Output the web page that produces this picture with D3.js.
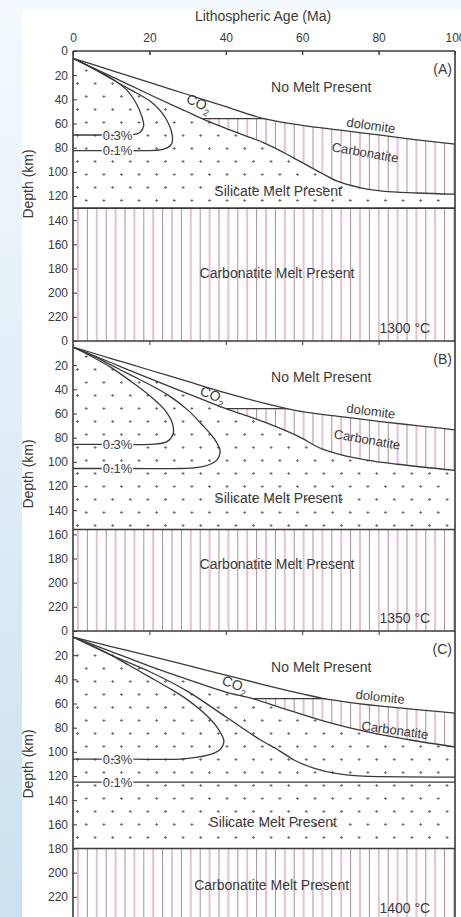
<!DOCTYPE html>
<html>
<head>
<meta charset="utf-8">
<script src="https://cdn.jsdelivr.net/npm/d3@7"></script>
<style>
  body { margin: 0; background: #eef6fb; }
  svg { display: block; font-family: "Liberation Sans", Arial, sans-serif; }
</style>
</head>
<body>
<div id="chart"></div>
<script>
// tick values
var ageTicks = [0, 20, 40, 60, 80, 100];
var depthTicks = [0, 20, 40, 60, 80, 100, 120, 140, 160, 180, 200, 220];
var panelNames = ["(A)", "(B)", "(C)"];
var mantleTemps = ["1300 °C", "1350 °C", "1400 °C"];

// [age (Ma), depth (km)]
// panel A, 1300 C
var dolomiteA = [[0,6],[10,16],[20,26],[30,36],[40,46],[50,56],[60,61.5],[70,65.5],[80,69.5],[90,73.5],[100,77]];
var solidusA = [[0,6],[10,21],[20,36],[30,50.5],[34.5,57],[40,64],[45,70],[50,76],[57.5,88],[65,101],[69,107.5],[75,113],[81,116],[90,117.5],[100,118.5]];
var melt03A = [[0,6],[5,14],[10,22.5],[14,32],[16.5,43],[18,54],[18.5,62],[17.5,67.5],[15,69.5],[8,69.5],[0,69.5]];
var melt01A = [[0,6],[5,14],[10,23],[15,32],[20,41],[23,50],[25,60],[26,70],[25.8,77],[23.5,81.5],[18,82.5],[8,82.5],[0,82.5]];

// panel B, 1350 C
var dolomiteB = [[0,5],[10,14.5],[20,24],[30,33.5],[40,43],[50,51.5],[56,56],[60,58.5],[70,62.5],[80,66.5],[90,70],[100,73.5]];
var solidusB = [[0,5],[10,18],[20,31],[30,43.5],[40,56],[50,67],[59,79],[65,89],[70,94],[77,98.5],[85,102],[100,107]];
var melt03B = [[0,5],[5,13],[10,22],[15,33],[20,45],[24,57],[26,68],[26.2,77],[24.5,83.5],[20,85.5],[10,85.5],[0,85.5]];
var melt01B = [[0,5],[5,12],[10,20],[15,28],[20,36],[25,45],[30,57],[34,70],[37,81],[38.5,91],[37.5,99],[34,104],[28,105.5],[15,105.5],[0,105.5]];

// panel C, 1400 C
var dolomiteC = [[0,5],[10,13],[20,20.5],[30,28.5],[40,36.5],[50,44.5],[60,52],[65,55.5],[70,58],[80,62],[90,65],[100,68]];
var solidusC = [[0,5],[10,17],[20,29],[30,40],[40,50.5],[47,56],[55,64],[65,74],[77,83.5],[88,90],[100,96]];
var melt03C = [[0,5],[5,12],[10,20],[15,29],[20,38],[25,47],[30,57],[35,70],[38,81],[39.5,91],[38.5,98],[35,103],[28,106],[15,106],[0,106]];
var melt01C = [[0,5],[10,20],[20,33.5],[30,50],[40,71],[49,90],[54,99],[58,107],[63,113.5],[70,118.5],[80,120.5],[100,121]];
var melt01FlatC = [[0,125],[100,125]];

// depth of the carbonatite top and of the base of the silicate melt
var carbonatiteTop = [56, 56, 56];
var silicateBase = [130, 156, 180];

var svgWidth = 461, svgHeight = 917;
var left = 73, right = 455;
var panelTops = [51, 341, 631];
var panelH = 290;
var ink = "#3a3a3a";

var svg = d3.select("#chart").append("svg")
  .attr("width", svgWidth)
  .attr("height", svgHeight);

var defs = svg.append("defs");

// slide background + white sheet
var bg = defs.append("linearGradient").attr("id", "bg").attr("x1", 0).attr("y1", 0).attr("x2", 0).attr("y2", 1);
bg.append("stop").attr("offset", "0%").attr("stop-color", "#f3f9fd");
bg.append("stop").attr("offset", "100%").attr("stop-color", "#cbe1ed");
svg.append("rect").attr("width", svgWidth).attr("height", svgHeight).attr("fill", "url(#bg)");
svg.append("rect").attr("x", 22).attr("y", 9).attr("width", svgWidth - 22).attr("height", svgHeight - 9).attr("fill", "#fff");

// vertical pink hatch
var hatch = defs.append("pattern").attr("id", "hatch")
  .attr("patternUnits", "userSpaceOnUse")
  .attr("x", left + 4).attr("width", 18.8).attr("height", 10);
hatch.append("line").attr("x1", 1).attr("x2", 1).attr("y1", 0).attr("y2", 10)
  .attr("stroke", "#cf80a9").attr("stroke-width", 1);
hatch.append("line").attr("x1", 10.4).attr("x2", 10.4).attr("y1", 0).attr("y2", 10)
  .attr("stroke", "#b08a9f").attr("stroke-width", 1);

// small grey crosses
var dots = defs.append("pattern").attr("id", "dots")
  .attr("patternUnits", "userSpaceOnUse")
  .attr("x", left).attr("y", 0).attr("width", 17.6).attr("height", 26);
dots.append("path")
  .attr("d", "M3,5.5h3M4.5,4v3M11.8,18.5h3M13.3,17v3")
  .attr("stroke", "#6f6f6f").attr("stroke-width", 1);

var x = d3.scaleLinear().domain([0, 100]).range([left, right]);

// title
svg.append("text")
  .attr("x", 263).attr("y", 21)
  .attr("text-anchor", "middle")
  .attr("font-size", 14)
  .attr("fill", ink)
  .text("Lithospheric Age (Ma)");

// top axis
svg.append("g")
  .attr("transform", `translate(0, ${panelTops[0]})`)
  .call(d3.axisTop(x).tickValues(ageTicks).tickSize(-4).tickPadding(9))
  .call(g => g.select(".domain").remove())
  .call(g => g.selectAll("line").attr("stroke", ink))
  .call(g => g.selectAll("text").attr("font-size", 12).attr("fill", ink).attr("font-family", "Liberation Sans, Arial, sans-serif"));

var panels = [
  { dolomite: dolomiteA, solidus: solidusA, loops: [melt03A, melt01A], open: [],
    labels: { co2: [33, 43, 25], dol: [78, 61.5, 8], carb: [76.5, 84, 10], sil: [53.7, 116], cmp: [53.4, 184], p03: 69.5, p01: 82.5 } },
  { dolomite: dolomiteB, solidus: solidusB, loops: [melt03B, melt01B], open: [],
    labels: { co2: [36.6, 44.5, 22], dol: [78, 58, 7], carb: [77, 81.5, 10], sil: [53.7, 130], cmp: [53.4, 185], p03: 85.5, p01: 105.5 } },
  { dolomite: dolomiteC, solidus: solidusC, loops: [melt03C], open: [melt01C, melt01FlatC],
    labels: { co2: [42.4, 44, 20], dol: [80.4, 54.5, 6], carb: [84.3, 82, 8], sil: [52.4, 158], cmp: [52, 210], p03: 106, p01: 125 } }
];

panels.forEach(function(p, i) {
  var top = panelTops[i];
  var y = d3.scaleLinear().domain([0, 240]).range([top, top + panelH]);

  var line = d3.line().x(d => x(d[0])).y(d => y(d[1])).curve(d3.curveMonotoneX);
  var loop = d3.line().x(d => x(d[0])).y(d => y(d[1])).curve(d3.curveCatmullRom.alpha(0.5));

  var bottomEdge = `L${x(100)},${y(240)}L${x(0)},${y(240)}Z`;
  var topEdge = `L${x(100)},${y(0)}L${x(0)},${y(0)}Z`;

  defs.append("clipPath").attr("id", "panel-" + i)
    .append("rect").attr("x", left).attr("y", top).attr("width", right - left).attr("height", panelH);
  defs.append("clipPath").attr("id", "belowSol-" + i)
    .append("path").attr("d", line(p.solidus) + bottomEdge);
  defs.append("clipPath").attr("id", "aboveSol-" + i)
    .append("path").attr("d", line(p.solidus) + topEdge);
  defs.append("clipPath").attr("id", "belowDol-" + i)
    .append("path").attr("d", line(p.dolomite) + bottomEdge);

  var g = svg.append("g").attr("clip-path", `url(#panel-${i})`);

  // silicate melt field (dots)
  g.append("rect")
    .attr("x", left).attr("y", top)
    .attr("width", right - left).attr("height", y(silicateBase[i]) - top)
    .attr("clip-path", `url(#belowSol-${i})`)
    .attr("fill", "url(#dots)");

  // carbonatite wedge between dolomite and solidus
  var wedge = g.append("g").attr("clip-path", `url(#belowDol-${i})`)
    .append("g").attr("clip-path", `url(#aboveSol-${i})`);
  wedge.append("rect")
    .attr("x", left).attr("y", y(carbonatiteTop[i]))
    .attr("width", right - left).attr("height", y(silicateBase[i]) - y(carbonatiteTop[i]))
    .attr("fill", "url(#hatch)");
  wedge.append("line")
    .attr("x1", x(0)).attr("x2", x(100))
    .attr("y1", y(carbonatiteTop[i])).attr("y2", y(carbonatiteTop[i]))
    .attr("stroke", ink).attr("stroke-width", 1.3);

  // carbonatite melt below the silicate field
  g.append("rect")
    .attr("x", left).attr("y", y(silicateBase[i]))
    .attr("width", right - left).attr("height", y(240) - y(silicateBase[i]))
    .attr("fill", "url(#hatch)");

  // boundaries
  [p.dolomite, p.solidus].concat(p.open).forEach(function(d) {
    g.append("path").attr("d", line(d)).attr("fill", "none")
      .attr("stroke", ink).attr("stroke-width", 1.3);
  });
  p.loops.forEach(function(d) {
    g.append("path").attr("d", loop(d)).attr("fill", "none")
      .attr("stroke", ink).attr("stroke-width", 1.3);
  });
  g.append("line")
    .attr("x1", x(0)).attr("x2", x(100))
    .attr("y1", y(silicateBase[i])).attr("y2", y(silicateBase[i]))
    .attr("stroke", ink).attr("stroke-width", 1.6);

  // left axis
  svg.append("g")
    .attr("transform", `translate(${left}, 0)`)
    .call(d3.axisLeft(y).tickValues(depthTicks).tickSize(-4).tickPadding(5))
    .call(g => g.select(".domain").remove())
    .call(g => g.selectAll("line").attr("stroke", ink))
    .call(g => g.selectAll("text").attr("font-size", 12).attr("fill", ink).attr("font-family", "Liberation Sans, Arial, sans-serif"));

  // inward ticks along the top edge of every panel
  svg.append("g")
    .attr("transform", `translate(0, ${top})`)
    .call(d3.axisBottom(x).tickValues(ageTicks.slice(1, -1)).tickSize(4).tickFormat(""))
    .call(g => g.select(".domain").remove())
    .call(g => g.selectAll("line").attr("stroke", ink));

  // frame edges
  svg.append("line").attr("x1", left).attr("x2", right).attr("y1", top).attr("y2", top)
    .attr("stroke", ink).attr("stroke-width", 1.6);

  // y label
  svg.append("text")
    .attr("transform", `translate(33, ${top + 133}) rotate(-90)`)
    .attr("text-anchor", "middle")
    .attr("font-size", 14)
    .attr("fill", ink)
    .text("Depth (km)");

  var L = p.labels;
  var txt = svg.append("g").attr("fill", ink).attr("font-size", 14);

  txt.append("text").attr("x", x(99.2)).attr("y", y(15)).attr("dy", "0.35em")
    .attr("text-anchor", "end").text(panelNames[i]);
  txt.append("text").attr("x", x(65)).attr("y", y(30)).attr("dy", "0.35em")
    .attr("text-anchor", "middle").text("No Melt Present");

  var co2 = txt.append("text")
    .attr("transform", `translate(${x(L.co2[0])}, ${y(L.co2[1])}) rotate(${L.co2[2]})`)
    .attr("text-anchor", "middle").attr("dy", "0.35em");
  co2.append("tspan").text("CO");
  co2.append("tspan").attr("font-size", 9).attr("dy", 4).text("2");

  txt.append("text")
    .attr("transform", `translate(${x(L.dol[0])}, ${y(L.dol[1])}) rotate(${L.dol[2]})`)
    .attr("text-anchor", "middle").attr("dy", "0.35em").attr("font-size", 13)
    .text("dolomite");
  txt.append("text")
    .attr("transform", `translate(${x(L.carb[0])}, ${y(L.carb[1])}) rotate(${L.carb[2]})`)
    .attr("text-anchor", "middle").attr("dy", "0.35em").attr("font-size", 13)
    .text("Carbonatite");

  txt.append("text").attr("x", x(L.sil[0])).attr("y", y(L.sil[1])).attr("dy", "0.35em")
    .attr("text-anchor", "middle").text("Silicate Melt Present");
  txt.append("text").attr("x", x(L.cmp[0])).attr("y", y(L.cmp[1])).attr("dy", "0.35em")
    .attr("text-anchor", "middle").text("Carbonatite Melt Present");
  txt.append("text").attr("x", x(93.5)).attr("y", y(229)).attr("dy", "0.35em")
    .attr("text-anchor", "end").text(mantleTemps[i]);

  [["0.3%", L.p03], ["0.1%", L.p01]].forEach(function(c) {
    txt.append("text").attr("x", x(7.8)).attr("y", y(c[1])).attr("dy", "0.35em")
      .attr("font-size", 13)
      .attr("paint-order", "stroke").attr("stroke", "#fff").attr("stroke-width", 3)
      .text(c[0]);
  });
});

// left and right frame
svg.append("line").attr("x1", left).attr("x2", left).attr("y1", panelTops[0]).attr("y2", svgHeight)
  .attr("stroke", ink).attr("stroke-width", 1.6);
svg.append("line").attr("x1", right).attr("x2", right).attr("y1", panelTops[0]).attr("y2", svgHeight)
  .attr("stroke", ink).attr("stroke-width", 1.6);
</script>
</body>
</html>
